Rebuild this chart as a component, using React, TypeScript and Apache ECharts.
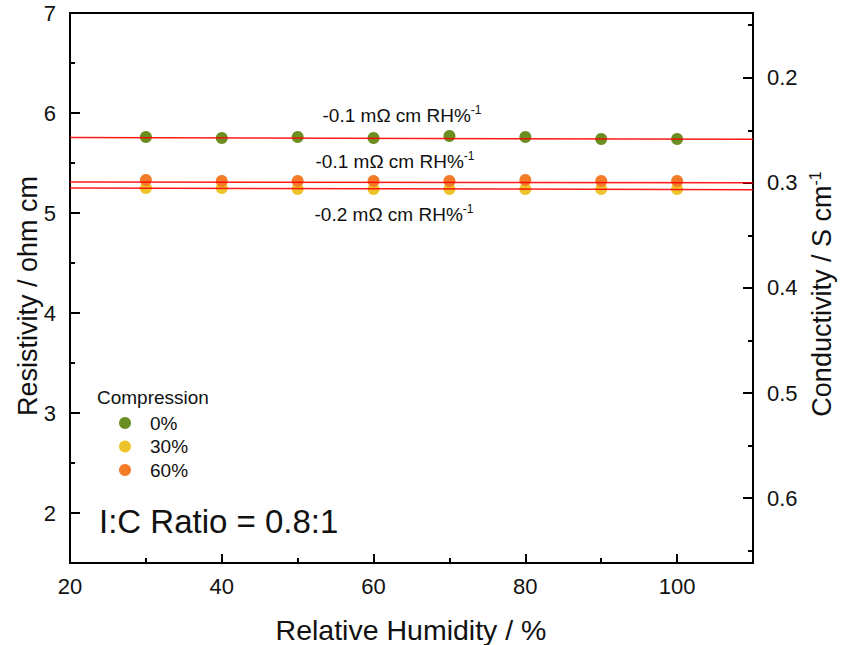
import React, { useEffect, useRef } from "react";
import * as echarts from "echarts";

const humidity = [30, 40, 50, 60, 70, 80, 90, 100];
const res0 = [5.76, 5.75, 5.76, 5.75, 5.77, 5.76, 5.74, 5.74];
const res30 = [5.25, 5.25, 5.24, 5.24, 5.24, 5.24, 5.24, 5.24];
const res60 = [5.33, 5.32, 5.32, 5.32, 5.32, 5.33, 5.32, 5.32];
const fitX = [20, 110];
const fit0 = [5.755, 5.737];
const fit30 = [5.25, 5.233];
const fit60 = [5.31, 5.303];
const seriesNames = ["0%", "30%", "60%"];
const seriesColors = ["#6B8E23", "#EDC42A", "#F47B28"];
const xMajor = [20, 40, 60, 80, 100];
const xMinor = [30, 50, 70, 90, 110];
const leftMajor = [2, 3, 4, 5, 6, 7];
const leftMinor = [2.5, 3.5, 4.5, 5.5, 6.5];
const rightMajor = [0.2, 0.3, 0.4, 0.5, 0.6];
const rightMinor = [0.15, 0.25, 0.35, 0.45, 0.55, 0.65];
const slopeLabels = ["-0.1", "-0.1", "-0.2"];

const FONT = "'Liberation Sans', Arial, Helvetica, sans-serif";

export default function App() {
  const ref = useRef<HTMLDivElement>(null);
  useEffect(() => {
    if (!ref.current) return;
    const chart = echarts.init(ref.current, undefined, { renderer: "svg" });
    const pts = (ys: number[]) => humidity.map((x, i) => [x, ys[i]]);
    const fit = (ys: number[]) => fitX.map((x, i) => [x, ys[i]]);
    const scatter = (name: string, ys: number[], color: string) => ({
      name,
      type: "scatter",
      data: pts(ys),
      symbol: "circle",
      symbolSize: 12,
      itemStyle: { color, opacity: 1 },
      z: 2,
    });
    const line = (ys: number[]) => ({
      type: "line",
      data: fit(ys),
      showSymbol: false,
      lineStyle: { color: "rgba(255,0,0,0.9)", width: 1.5 },
      z: 3,
      silent: true,
    });
    const ann = (text: string, x: number, y: number) => ({
      type: "text",
      x,
      y,
      style: {
        text: `${text} mΩ cm RH%{s|-1}`,
        fill: "#111",
        font: `19px ${FONT}`,
        align: "center",
        verticalAlign: "middle",
        rich: { s: { fontSize: 12, verticalAlign: "top", padding: [0, 0, 10, 0], fontFamily: FONT } },
      },
    });
    const tickLabel = { color: "#111", fontSize: 22, fontFamily: FONT };
    const tickStyle = { color: "#000", width: 2 };
    chart.setOption({
      animation: false,
      grid: { left: 70, right: 88, top: 13, bottom: 82, show: true, borderColor: "#000", borderWidth: 2 },
      legend: {
        data: seriesNames,
        orient: "vertical",
        left: 114,
        top: 408,
        itemWidth: 12,
        itemHeight: 12,
        itemGap: 3.5,
        icon: "circle",
        textStyle: { color: "#111", fontSize: 19, fontFamily: FONT, lineHeight: 20, padding: [0, 0, 0, 14] },
      },
      xAxis: [
        {
          type: "value",
          min: 20,
          max: 110,
          interval: 10,
          axisLine: { show: true, lineStyle: { color: "#000", width: 2 } },
          axisTick: { inside: true, length: 9, customValues: xMajor, lineStyle: tickStyle },
          axisLabel: { ...tickLabel, margin: 12, customValues: xMajor },
          splitLine: { show: false },
        },
        {
          type: "value",
          position: "bottom",
          min: 20,
          max: 110,
          interval: 10,
          axisLine: { show: false },
          axisTick: { inside: true, length: 5, customValues: xMinor, lineStyle: tickStyle },
          axisLabel: { show: false },
          splitLine: { show: false },
        },
      ],
      yAxis: [
        {
          type: "value",
          position: "left",
          min: 1.5,
          max: 7,
          interval: 0.5,
          axisLine: { show: true, lineStyle: { color: "#000", width: 2 } },
          axisTick: { inside: true, length: 10, customValues: leftMajor, lineStyle: tickStyle },
          axisLabel: { ...tickLabel, margin: 14, customValues: leftMajor },
          splitLine: { show: false },
        },
        {
          type: "value",
          position: "left",
          min: 1.5,
          max: 7,
          interval: 0.5,
          axisLine: { show: false },
          axisTick: { inside: true, length: 5, customValues: leftMinor, lineStyle: tickStyle },
          axisLabel: { show: false },
          splitLine: { show: false },
        },
        {
          type: "value",
          position: "right",
          inverse: true,
          min: 0.1384,
          max: 0.6617,
          axisLine: { show: true, lineStyle: { color: "#000", width: 2 } },
          axisTick: { inside: true, length: 10, customValues: rightMajor, lineStyle: tickStyle },
          axisLabel: {
            ...tickLabel,
            margin: 14,
            customValues: rightMajor,
            formatter: (v: number) => v.toFixed(1),
          },
          splitLine: { show: false },
        },
        {
          type: "value",
          position: "right",
          inverse: true,
          min: 0.1384,
          max: 0.6617,
          axisLine: { show: false },
          axisTick: { inside: true, length: 5, customValues: rightMinor, lineStyle: tickStyle },
          axisLabel: { show: false },
          splitLine: { show: false },
        },
      ],
      series: [
        scatter(seriesNames[0], res0, seriesColors[0]),
        scatter(seriesNames[1], res30, seriesColors[1]),
        scatter(seriesNames[2], res60, seriesColors[2]),
        line(fit0),
        line(fit60),
        line(fit30),
      ],
      graphic: [
        {
          type: "text",
          x: 28,
          y: 296,
          rotation: Math.PI / 2,
          style: { text: "Resistivity / ohm cm", fill: "#111", font: `27px ${FONT}`, align: "center", verticalAlign: "middle" },
        },
        {
          type: "text",
          x: 411,
          y: 630,
          style: { text: "Relative Humidity / %", fill: "#111", font: `28.5px ${FONT}`, align: "center", verticalAlign: "middle" },
        },
        {
          type: "text",
          x: 822,
          y: 294,
          rotation: Math.PI / 2,
          style: {
            text: "Conductivity / S cm{s|-1}",
            fill: "#111",
            font: `27px ${FONT}`,
            align: "center",
            verticalAlign: "middle",
            rich: { s: { fontSize: 16, verticalAlign: "top", padding: [0, 0, 13, 0], fontFamily: FONT } },
          },
        },
        ann(slopeLabels[0], 402, 115),
        ann(slopeLabels[1], 395, 161),
        ann(slopeLabels[2], 394, 214),
        {
          type: "text",
          x: 97,
          y: 397,
          style: { text: "Compression", fill: "#111", font: `19px ${FONT}`, align: "left", verticalAlign: "middle" },
        },
        {
          type: "text",
          x: 99,
          y: 521,
          style: { text: "I:C Ratio = 0.8:1", fill: "#111", font: `33px ${FONT}`, align: "left", verticalAlign: "middle" },
        },
      ],
    });
    return () => chart.dispose();
  }, []);
  return <div ref={ref} style={{ width: 841, height: 645, position: "absolute", left: 0, top: 0 }} />;
}
